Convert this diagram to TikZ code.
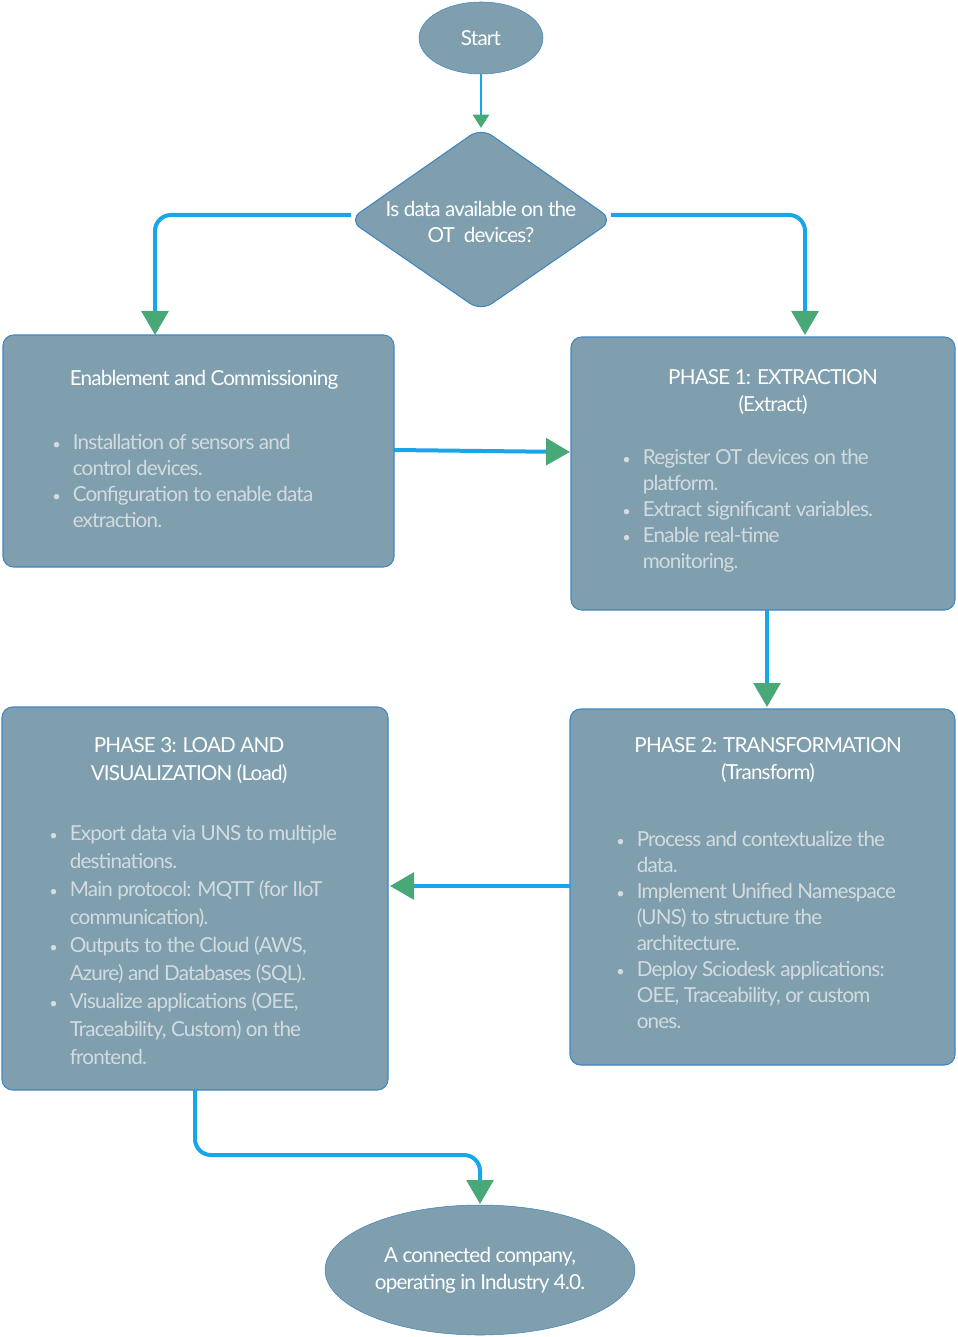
\documentclass[tikz,border=0pt]{standalone}
\usepackage{fontspec}
\setmainfont{Lato}[LetterSpace=-4]
\usetikzlibrary{arrows.meta,shapes.geometric}
\definecolor{boxfill}{HTML}{7F9FAE}
\definecolor{boxline}{HTML}{3F86C4}
\definecolor{conn}{HTML}{17A6EA}
\definecolor{tipc}{HTML}{48A878}
\definecolor{bul}{HTML}{D3DBDF}
\begin{document}
\begin{tikzpicture}[x=0.75pt,y=-0.75pt,
  blk/.style={draw=boxline,line width=0.8pt,fill=boxfill,rounded corners=8pt},
  ttl/.style={text=white,font=\fontsize{15.5}{20}\selectfont,align=center},
  bl/.style={text=bul,font=\fontsize{15.5}{19.5}\selectfont,anchor=base west,inner sep=0pt},
  con/.style={draw=conn,line width=3pt,rounded corners=12pt,-{Triangle[length=18pt,width=20pt,color=tipc]}}]
\useasboundingbox (0,0) rectangle (957,1337);
\newcommand{\bls}[1]{\begin{tabular}[t]{@{}l@{\hspace{9pt}}l@{}}#1\end{tabular}}
\def\bb{\textcolor{bul}{\fontsize{11}{11}\selectfont\textbullet}}
% shapes
\node[ellipse,draw=boxline,fill=boxfill,minimum width=124*0.75pt,minimum height=72*0.75pt,ttl] (start) at (481,38) {Start};
\draw[blk,rounded corners=10pt] (481,128) -- (613,220) -- (481,311) -- (349,220) -- cycle;
\coordinate (dtop) at (481,128); \coordinate (dl) at (351,215); \coordinate (dr) at (611,215);
\node[ttl] (dtxt) at (481,222) {Is data available on the\\OT~ devices?};
\draw[blk] (3,335) rectangle (394,567);
\node[ttl] (t0) at (204,380) {Enablement and Commissioning};
\node[bl] (b0) at (52,449) {\bls{\bb & Installation of sensors and\\ & control devices.\\ \bb & Configuration to enable data\\ & extraction.}};
\draw[blk] (571,337) rectangle (955,610);
\node[ttl] (t1) at (773,392) {PHASE 1: EXTRACTION\\(Extract)};
\node[bl] (b1) at (622,464) {\bls{\bb & Register OT devices on the\\ & platform.\\ \bb & Extract significant variables.\\ \bb & Enable real-time\\ & monitoring.}};
\draw[blk] (570,709) rectangle (955,1065);
\node[ttl] (t2) at (768,760) {PHASE 2: TRANSFORMATION\\(Transform)};
\node[bl] (b2) at (616,846) {\bls{\bb & Process and contextualize the\\ & data.\\ \bb & Implement Unified Namespace\\ & (UNS) to structure the\\ & architecture.\\ \bb & Deploy Sciodesk applications:\\ & OEE, Traceability, or custom\\ & ones.}};
\draw[blk] (2,707) rectangle (388,1090);
\node[ttl,font=\fontsize{15.5}{21}\selectfont] (t3) at (189,761) {PHASE 3: LOAD AND\\VISUALIZATION (Load)};
\node[bl,font=\fontsize{15.5}{21}\selectfont] (b3) at (49,840) {\bls{\bb & Export data via UNS to multiple\\ & destinations.\\ \bb & Main protocol: MQTT (for IIoT\\ & communication).\\ \bb & Outputs to the Cloud (AWS,\\ & Azure) and Databases (SQL).\\ \bb & Visualize applications (OEE,\\ & Traceability, Custom) on the\\ & frontend.}};
\node[ellipse,draw=boxline,fill=boxfill,minimum width=286*0.75pt,minimum height=130*0.75pt,ttl] (end) at (480,1270) {A connected company,\\operating in Industry 4.0.};
% anchor coordinates
\coordinate (sb) at (481,74);
\coordinate (e0t) at (155,335); \coordinate (p1t) at (805,335);
\coordinate (e0r) at (394,450); \coordinate (p1l) at (570,452);
\coordinate (p1b) at (767,610); \coordinate (p2t) at (767,707);
\coordinate (p2l) at (570,886); \coordinate (p3r) at (390,886);
\coordinate (p3b) at (195,1090); \coordinate (et) at (480,1204);
% connectors
\draw[con,line width=2pt,-{Triangle[length=10pt,width=12pt,color=tipc]}] (sb) -- (dtop);
\draw[con] (dl) -| (e0t);
\draw[con] (dr) -| (p1t);
\draw[con] (e0r) -- (p1l);
\draw[con] (p1b) -- (p2t);
\draw[con] (p2l) -- (p3r);
\draw[con] (p3b) |- (480,1155) -- (et);
\end{tikzpicture}
\end{document}
